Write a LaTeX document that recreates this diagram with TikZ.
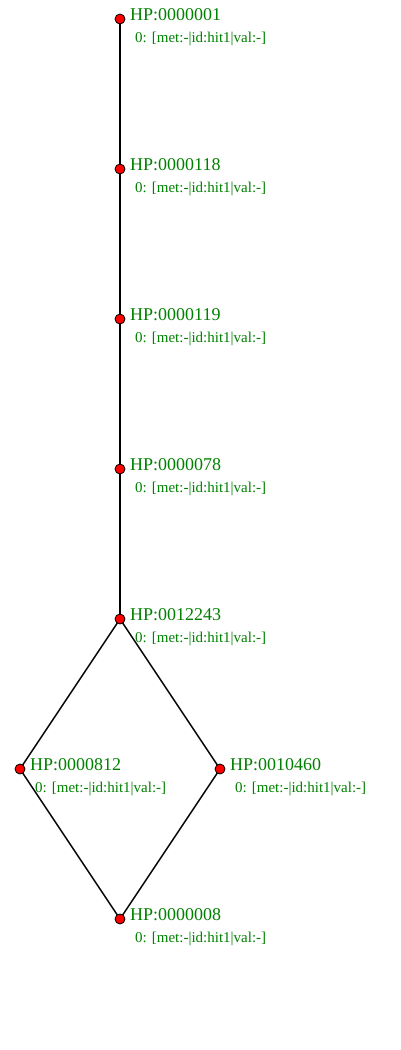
\documentclass[tikz,border=0pt]{standalone}
\usepackage{fontspec}
\setmainfont{Liberation Serif}
\definecolor{lblgreen}{RGB}{0,128,0}
\begin{document}
\begin{tikzpicture}[x=1pt,y=-1pt,
  term/.style={circle,fill=red,draw=black,line width=0.8pt,inner sep=0pt,minimum size=10pt},
  edge/.style={draw=black,line width=1.5pt},
  hp/.style={anchor=base west,inner sep=0pt,text=lblgreen,font=\fontsize{18}{18}\selectfont},
  info/.style={anchor=base west,inner sep=0pt,text=lblgreen,font=\fontsize{15}{15}\selectfont}]
\useasboundingbox (0,0) rectangle (400,1050);
\coordinate (p1) at (120,19);
\coordinate (p2) at (120,169);
\coordinate (p3) at (120,319);
\coordinate (p4) at (120,469);
\coordinate (p5) at (120,619);
\coordinate (p6) at (20,769);
\coordinate (p7) at (220,769);
\coordinate (p8) at (120,919);
\draw[edge] (p1) -- (p2) -- (p3) -- (p4) -- (p5);
\draw[edge] (p5) -- (p6) -- (p8);
\draw[edge] (p5) -- (p7) -- (p8);
\foreach \c/\t in {p1/HP:0000001,p2/HP:0000118,p3/HP:0000119,p4/HP:0000078,p5/HP:0012243,p6/HP:0000812,p7/HP:0010460,p8/HP:0000008}{
  \node[term] (n\c) at (\c) {};
  \node[hp] (h\c) at ([xshift=10pt,yshift=-1pt]\c) {\t};
  \node[info] (i\c) at ([xshift=15pt,yshift=-23pt]\c) {0: [met:-|id:hit1|val:-]};
}
\end{tikzpicture}
\end{document}
